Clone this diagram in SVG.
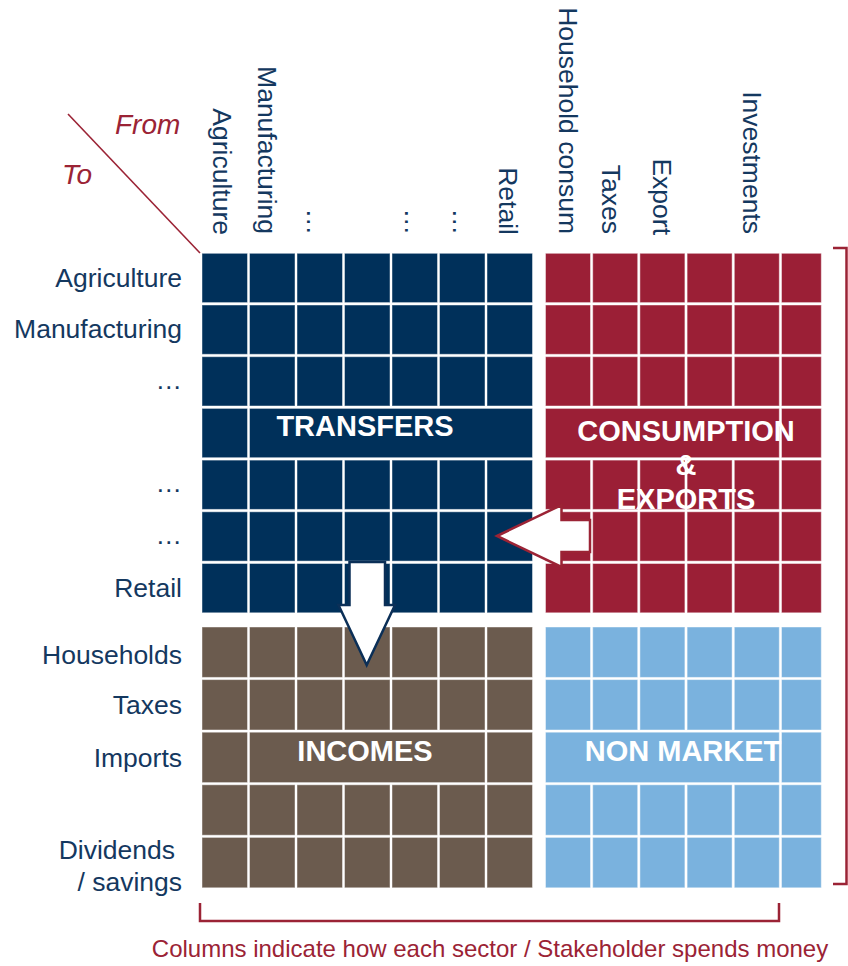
<svg xmlns="http://www.w3.org/2000/svg" width="848" height="966" viewBox="0 0 848 966">
  <style>
    text { font-family: "Liberation Sans", Arial, sans-serif; }
    .lbl { font-size: 26.5px; fill: #14385f; }
    .row { text-anchor: end; }
    .col { text-anchor: end; }
    .ttl { font-size: 28px; font-style: italic; fill: #9b2335; }
    .blk { font-size: 29px; font-weight: bold; fill: #ffffff; text-anchor: middle; }
    .cap { font-size: 24px; fill: #9b2335; text-anchor: middle; }
    .c rect { stroke: #ffffff; stroke-opacity: 0.45; stroke-width: 1; }
    .nv rect { fill: #00305a; }
    .rd rect { fill: #9b1f36; }
    .br rect { fill: #6b5b4e; }
    .lb rect { fill: #7ab2de; }
    .brk { fill: none; stroke: #9b2335; stroke-width: 2.5; }
  </style>

  <!-- corner header -->
  <g id="corner">
    <line x1="68" y1="114" x2="200" y2="253" stroke="#9b2335" stroke-width="1.6"/>
    <text class="ttl" x="115" y="134">From</text>
    <text class="ttl" x="62" y="184">To</text>
  </g>

  <!-- column headers -->
  <g id="col-headers" class="lbl col">
    <text transform="translate(213,235) rotate(90)">Agriculture</text>
    <text transform="translate(257.5,234) rotate(90)">Manufacturing</text>
    <text transform="translate(307,235) rotate(90)">…</text>
    <text transform="translate(405,235) rotate(90)">…</text>
    <text transform="translate(453,235) rotate(90)">…</text>
    <text transform="translate(499,235) rotate(90)">Retail</text>
    <text transform="translate(559,234) rotate(90)">Household consum</text>
    <text transform="translate(602,234) rotate(90)">Taxes</text>
    <text transform="translate(653,235) rotate(90)">Export</text>
    <text transform="translate(743,234) rotate(90)">Investments</text>
  </g>

  <!-- row headers -->
  <g id="row-headers" class="lbl row">
    <text x="182" y="287">Agriculture</text>
    <text x="182" y="338">Manufacturing</text>
    <text x="182" y="389">…</text>
    <text x="182" y="492">…</text>
    <text x="182" y="544">…</text>
    <text x="182" y="597">Retail</text>
    <text x="182" y="664">Households</text>
    <text x="182" y="714">Taxes</text>
    <text x="182" y="767">Imports</text>
    <text x="175" y="859">Dividends</text>
    <text x="182" y="891">/ savings</text>
  </g>

  <!-- transfers block: sectors to sectors -->
  <g id="transfers" class="c nv">
    <rect x="202" y="253.3" width="45.5" height="49.3"/><rect x="249.5" y="253.3" width="45.5" height="49.3"/><rect x="297" y="253.3" width="45.5" height="49.3"/><rect x="344.5" y="253.3" width="45.5" height="49.3"/><rect x="392" y="253.3" width="45.5" height="49.3"/><rect x="439.5" y="253.3" width="45.5" height="49.3"/><rect x="487" y="253.3" width="45.5" height="49.3"/>
    <rect x="202" y="305" width="45.5" height="49.3"/><rect x="249.5" y="305" width="45.5" height="49.3"/><rect x="297" y="305" width="45.5" height="49.3"/><rect x="344.5" y="305" width="45.5" height="49.3"/><rect x="392" y="305" width="45.5" height="49.3"/><rect x="439.5" y="305" width="45.5" height="49.3"/><rect x="487" y="305" width="45.5" height="49.3"/>
    <rect x="202" y="356.7" width="45.5" height="49.3"/><rect x="249.5" y="356.7" width="45.5" height="49.3"/><rect x="297" y="356.7" width="45.5" height="49.3"/><rect x="344.5" y="356.7" width="45.5" height="49.3"/><rect x="392" y="356.7" width="45.5" height="49.3"/><rect x="439.5" y="356.7" width="45.5" height="49.3"/><rect x="487" y="356.7" width="45.5" height="49.3"/>
    <rect x="202" y="408.4" width="45.5" height="49.3"/><rect x="249.5" y="408.4" width="283" height="49.3"/>
    <rect x="202" y="460.1" width="45.5" height="49.3"/><rect x="249.5" y="460.1" width="45.5" height="49.3"/><rect x="297" y="460.1" width="45.5" height="49.3"/><rect x="344.5" y="460.1" width="45.5" height="49.3"/><rect x="392" y="460.1" width="45.5" height="49.3"/><rect x="439.5" y="460.1" width="45.5" height="49.3"/><rect x="487" y="460.1" width="45.5" height="49.3"/>
    <rect x="202" y="511.8" width="45.5" height="49.3"/><rect x="249.5" y="511.8" width="45.5" height="49.3"/><rect x="297" y="511.8" width="45.5" height="49.3"/><rect x="344.5" y="511.8" width="45.5" height="49.3"/><rect x="392" y="511.8" width="45.5" height="49.3"/><rect x="439.5" y="511.8" width="45.5" height="49.3"/><rect x="487" y="511.8" width="45.5" height="49.3"/>
    <rect x="202" y="563.5" width="45.5" height="49.3"/><rect x="249.5" y="563.5" width="45.5" height="49.3"/><rect x="297" y="563.5" width="45.5" height="49.3"/><rect x="344.5" y="563.5" width="45.5" height="49.3"/><rect x="392" y="563.5" width="45.5" height="49.3"/><rect x="439.5" y="563.5" width="45.5" height="49.3"/><rect x="487" y="563.5" width="45.5" height="49.3"/>
    <text class="blk" x="365" y="435.5">TRANSFERS</text>
  </g>

  <!-- consumption & exports block -->
  <g id="consumption" class="c rd">
    <rect x="545.5" y="253.3" width="45" height="49.3"/><rect x="592.7" y="253.3" width="45" height="49.3"/><rect x="639.9" y="253.3" width="45" height="49.3"/><rect x="687.1" y="253.3" width="45" height="49.3"/><rect x="734.3" y="253.3" width="45" height="49.3"/><rect x="781.5" y="253.3" width="39.8" height="49.3"/>
    <rect x="545.5" y="305" width="45" height="49.3"/><rect x="592.7" y="305" width="45" height="49.3"/><rect x="639.9" y="305" width="45" height="49.3"/><rect x="687.1" y="305" width="45" height="49.3"/><rect x="734.3" y="305" width="45" height="49.3"/><rect x="781.5" y="305" width="39.8" height="49.3"/>
    <rect x="545.5" y="356.7" width="45" height="49.3"/><rect x="592.7" y="356.7" width="45" height="49.3"/><rect x="639.9" y="356.7" width="45" height="49.3"/><rect x="687.1" y="356.7" width="45" height="49.3"/><rect x="734.3" y="356.7" width="45" height="49.3"/><rect x="781.5" y="356.7" width="39.8" height="49.3"/>
    <rect x="545.5" y="408.4" width="233.8" height="49.3"/><rect x="781.5" y="408.4" width="39.8" height="49.3"/>
    <rect x="545.5" y="460.1" width="45" height="49.3"/><rect x="592.7" y="460.1" width="45" height="49.3"/><rect x="639.9" y="460.1" width="45" height="49.3"/><rect x="687.1" y="460.1" width="45" height="49.3"/><rect x="734.3" y="460.1" width="45" height="49.3"/><rect x="781.5" y="460.1" width="39.8" height="49.3"/>
    <rect x="545.5" y="511.8" width="45" height="49.3"/><rect x="592.7" y="511.8" width="45" height="49.3"/><rect x="639.9" y="511.8" width="45" height="49.3"/><rect x="687.1" y="511.8" width="45" height="49.3"/><rect x="734.3" y="511.8" width="45" height="49.3"/><rect x="781.5" y="511.8" width="39.8" height="49.3"/>
    <rect x="545.5" y="563.5" width="45" height="49.3"/><rect x="592.7" y="563.5" width="45" height="49.3"/><rect x="639.9" y="563.5" width="45" height="49.3"/><rect x="687.1" y="563.5" width="45" height="49.3"/><rect x="734.3" y="563.5" width="45" height="49.3"/><rect x="781.5" y="563.5" width="39.8" height="49.3"/>
    <text class="blk" x="686" y="440.5">CONSUMPTION</text>
    <text class="blk" x="686" y="475">&amp;</text>
    <text class="blk" x="686" y="509">EXPORTS</text>
  </g>

  <!-- incomes block -->
  <g id="incomes" class="c br">
    <rect x="202" y="627" width="45.5" height="50.4"/><rect x="249.5" y="627" width="45.5" height="50.4"/><rect x="297" y="627" width="45.5" height="50.4"/><rect x="344.5" y="627" width="45.5" height="50.4"/><rect x="392" y="627" width="45.5" height="50.4"/><rect x="439.5" y="627" width="45.5" height="50.4"/><rect x="487" y="627" width="45.5" height="50.4"/>
    <rect x="202" y="679.6" width="45.5" height="50.4"/><rect x="249.5" y="679.6" width="45.5" height="50.4"/><rect x="297" y="679.6" width="45.5" height="50.4"/><rect x="344.5" y="679.6" width="45.5" height="50.4"/><rect x="392" y="679.6" width="45.5" height="50.4"/><rect x="439.5" y="679.6" width="45.5" height="50.4"/><rect x="487" y="679.6" width="45.5" height="50.4"/>
    <rect x="202" y="732.2" width="45.5" height="50.4"/><rect x="249.5" y="732.2" width="235.5" height="50.4"/><rect x="487" y="732.2" width="45.5" height="50.4"/>
    <rect x="202" y="784.8" width="45.5" height="50.4"/><rect x="249.5" y="784.8" width="45.5" height="50.4"/><rect x="297" y="784.8" width="45.5" height="50.4"/><rect x="344.5" y="784.8" width="45.5" height="50.4"/><rect x="392" y="784.8" width="45.5" height="50.4"/><rect x="439.5" y="784.8" width="45.5" height="50.4"/><rect x="487" y="784.8" width="45.5" height="50.4"/>
    <rect x="202" y="837.4" width="45.5" height="50.4"/><rect x="249.5" y="837.4" width="45.5" height="50.4"/><rect x="297" y="837.4" width="45.5" height="50.4"/><rect x="344.5" y="837.4" width="45.5" height="50.4"/><rect x="392" y="837.4" width="45.5" height="50.4"/><rect x="439.5" y="837.4" width="45.5" height="50.4"/><rect x="487" y="837.4" width="45.5" height="50.4"/>
    <text class="blk" x="365" y="761">INCOMES</text>
  </g>

  <!-- non market block -->
  <g id="non-market" class="c lb">
    <rect x="545.5" y="627" width="45" height="50.4"/><rect x="592.7" y="627" width="45" height="50.4"/><rect x="639.9" y="627" width="45" height="50.4"/><rect x="687.1" y="627" width="45" height="50.4"/><rect x="734.3" y="627" width="45" height="50.4"/><rect x="781.5" y="627" width="39.8" height="50.4"/>
    <rect x="545.5" y="679.6" width="45" height="50.4"/><rect x="592.7" y="679.6" width="45" height="50.4"/><rect x="639.9" y="679.6" width="45" height="50.4"/><rect x="687.1" y="679.6" width="45" height="50.4"/><rect x="734.3" y="679.6" width="45" height="50.4"/><rect x="781.5" y="679.6" width="39.8" height="50.4"/>
    <rect x="545.5" y="732.2" width="233.8" height="50.4"/><rect x="781.5" y="732.2" width="39.8" height="50.4"/>
    <rect x="545.5" y="784.8" width="45" height="50.4"/><rect x="592.7" y="784.8" width="45" height="50.4"/><rect x="639.9" y="784.8" width="45" height="50.4"/><rect x="687.1" y="784.8" width="45" height="50.4"/><rect x="734.3" y="784.8" width="45" height="50.4"/><rect x="781.5" y="784.8" width="39.8" height="50.4"/>
    <rect x="545.5" y="837.4" width="45" height="50.4"/><rect x="592.7" y="837.4" width="45" height="50.4"/><rect x="639.9" y="837.4" width="45" height="50.4"/><rect x="687.1" y="837.4" width="45" height="50.4"/><rect x="734.3" y="837.4" width="45" height="50.4"/><rect x="781.5" y="837.4" width="39.8" height="50.4"/>
    <text class="blk" x="683" y="761">NON MARKET</text>
  </g>

  <!-- flow arrows and brackets -->
  <g id="connectors">
    <path d="M497,536 L561.5,505 L561.5,520 L590,520 L590,552 L561.5,552 L561.5,567 Z" fill="#ffffff" stroke="#9b2335" stroke-width="2.5" stroke-linejoin="miter"/>
    <path d="M349.5,562 L385,562 L385,605 L395,605 L366.7,665 L338.5,605 L349.5,605 Z" fill="#ffffff" stroke="#0b2f57" stroke-width="2.5" stroke-linejoin="miter"/>
    <path class="brk" d="M833,248 H846.5 V884 H833"/>
    <path class="brk" d="M200,903 V921 H779 V903"/>
  </g>

  <text class="cap" x="490" y="957">Columns indicate how each sector / Stakeholder spends money</text>
</svg>
